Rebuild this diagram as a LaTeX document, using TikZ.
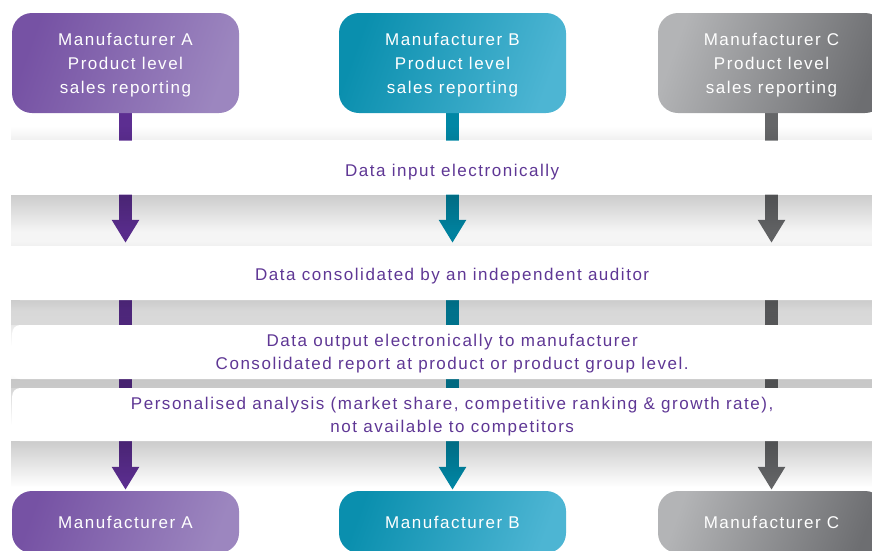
\documentclass[tikz,border=0pt]{standalone}
\usepackage{fontspec}
\setmainfont{Liberation Sans}[LetterSpace=9]
\usetikzlibrary{arrows.meta, positioning, fadings, backgrounds}

\definecolor{purpL}{HTML}{7652A4}
\definecolor{purpR}{HTML}{9C86BF}
\definecolor{tealL}{HTML}{0A8FAE}
\definecolor{tealR}{HTML}{4DB5D3}
\definecolor{greyL}{HTML}{B3B4B6}
\definecolor{greyR}{HTML}{6D6E71}
\definecolor{purpArrow}{HTML}{5C2E91}
\definecolor{tealArrow}{HTML}{0087A5}
\definecolor{greyArrow}{HTML}{656668}
\definecolor{txtPurple}{HTML}{5F3795}

\tikzfading[name=dropfade, top color=transparent!80, bottom color=transparent!100]
\tikzfading[name=upfade, top color=transparent!100, bottom color=transparent!94]

\tikzset{
	maker/.style={rounded corners=20pt, minimum width=227pt, minimum height=100pt, inner sep=0pt,
		align=center, text=white, font=\fontsize{17}{24}\selectfont, text height=64pt, text depth=4pt},
	endmaker/.style={maker, minimum height=62pt, text height=12pt, text depth=0pt},
	banner/.style={fill=white, rounded corners=8pt, minimum width=880pt, minimum height=54pt,
		inner sep=0pt, align=center, text=txtPurple, font=\fontsize{17}{23}\selectfont, anchor=west},
	flow/.style={line width=13pt, -{Triangle[width=26pt,length=23pt]}},
	dropshade/.style={fill=black, path fading=dropfade, fit fading=true},
	upshade/.style={fill=black, path fading=upfade, fit fading=true}
}

\begin{document}
\begin{tikzpicture}[x=1pt, y=-1pt]
	\useasboundingbox (0,0) rectangle (872,550);
	\clip (0,0) rectangle (872,550);

	% manufacturers, top row
	\node[maker, left color=purpL, right color=purpR, shading angle=70] (srcA) at (125.5,63) {Manufacturer A\\Product level\\sales reporting};
	\node[maker, left color=tealL, right color=tealR, shading angle=70] (srcB) at (452.5,63) {Manufacturer B\\Product level\\sales reporting};
	\node[maker, left color=greyL, right color=greyR, shading angle=70] (srcC) at (771.5,63) {Manufacturer C\\Product level\\sales reporting};

	% banners
	\node[banner, text height=20pt, text depth=3pt] (b1) at (12,167.5) {Data input electronically};
	\node[banner, text height=18.5pt, text depth=3pt] (b2) at (12,273) {Data consolidated by an independent auditor};
	\node[banner, text height=38pt, text depth=4pt] (b3) at (12,352) {Data output electronically to manufacturer\\Consolidated report at product or product group level.};
	\node[banner, minimum height=53pt, text height=40.4pt, text depth=4pt] (b4) at (12,414.5) {Personalised analysis (market share, competitive ranking \& growth rate),\\not available to competitors};

	% manufacturers, bottom row
	\node[endmaker, left color=purpL, right color=purpR, shading angle=70] (dstA) at (125.5,522) {Manufacturer A};
	\node[endmaker, left color=tealL, right color=tealR, shading angle=70] (dstB) at (452.5,522) {Manufacturer B};
	\node[endmaker, left color=greyL, right color=greyR, shading angle=70] (dstC) at (771.5,522) {Manufacturer C};

	\begin{scope}[on background layer]
		\foreach \col/\clr in {A/purpArrow, B/tealArrow, C/greyArrow}{
			\draw[flow, \clr] (src\col.south) -- ([yshift=3pt]src\col.south |- b2.north);
			\draw[flow, \clr] (src\col.south |- b2.center) -- ([yshift=1pt]dst\col.north);
		}
		% soft shadows under the banners
		\foreach \b in {b1,b2,b3,b4}{
			\fill[dropshade] (\b.south west) rectangle ([yshift=-46pt]\b.south east);
			\fill[upshade] ([yshift=14pt]\b.north west) rectangle (\b.north east);
		}
	\end{scope}
\end{tikzpicture}
\end{document}
